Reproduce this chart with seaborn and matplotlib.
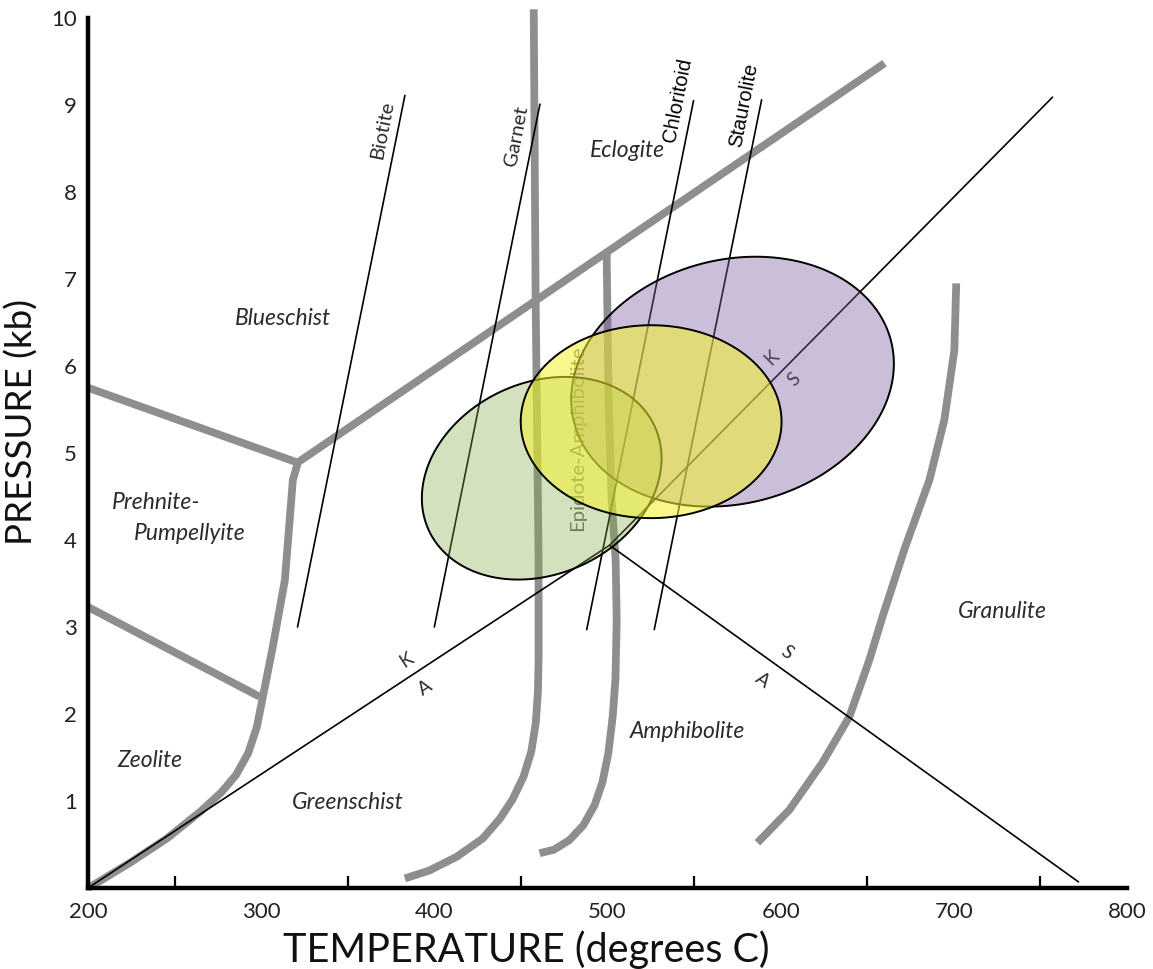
import numpy as np
import matplotlib
matplotlib.use("Agg")
import matplotlib.pyplot as plt
import seaborn as sns

sns.set_theme(style="white")
plt.rcParams['font.family'] = ['Lato', 'DejaVu Sans']

# ---------------- data ----------------
temp_major = [200, 300, 400, 500, 600, 700, 800]
temp_minor = [250, 350, 450, 550, 650, 750]
press_ticks = [1, 2, 3, 4, 5, 6, 7, 8, 9, 10]

# facies boundaries (T degC, P kb)
upper_T = [200, 321, 660]
upper_P = [5.75, 4.89, 9.48]
zeo_T = [321.2, 318.3, 313.7, 306.7, 301.0, 297.5, 292.5, 285.5, 277.0, 265.0, 245.6, 225.0, 205.2, 200]
zeo_P = [4.89, 4.69, 3.54, 2.77, 2.20, 1.85, 1.55, 1.30, 1.10, 0.88, 0.57, 0.30, 0.06, 0.0]
pp_T = [200, 299]
pp_P = [3.23, 2.2]
gs_T = [457.4, 458.5, 460.2, 460.2, 459.8, 458.6, 456.0, 451.5, 445.2, 438.0, 428.0, 413.0, 397.0, 383.0]
gs_P = [10.1, 6.76, 3.77, 2.62, 2.25, 1.90, 1.57, 1.28, 1.02, 0.80, 0.57, 0.36, 0.20, 0.11]
ea_T = [499.5, 500.6, 502.4, 504.7, 505.3, 504.6, 503.0, 500.5, 497.0, 492.5, 486.0, 478.0, 469.0, 460.8]
ea_P = [7.30, 5.61, 4.46, 3.77, 3.08, 2.40, 1.97, 1.55, 1.21, 0.95, 0.72, 0.55, 0.44, 0.40]
gr_T = [701.4, 700.3, 694.5, 685.9, 671.4, 658.7, 651.2, 639.7, 624.1, 605.1, 586.6]
gr_P = [6.95, 6.18, 5.38, 4.69, 3.89, 3.11, 2.62, 1.97, 1.44, 0.90, 0.52]

# Al2SiO5 triple point lines
ka_T, ka_P = [200, 501.2], [0.0, 3.94]
ks_T, ks_P = [501.2, 757], [3.94, 9.09]
as_T, as_P = [501.2, 772], [3.94, 0.07]

# isograds
iso_names = ["Biotite", "Garnet", "Chloritoid", "Staurolite"]
iso_T = [[321, 383], [400, 461], [488, 549.7], [527, 589]]
iso_P = [[3.0, 9.11], [3.0, 9.01], [2.97, 9.05], [2.97, 9.06]]
iso_label_T = [370.2, 447.5, 540.4, 578.5]
iso_label_P = [8.71, 8.64, 9.06, 9.0]

# P-T ellipses: centre T, centre P, semi-axes (in degC screen-equivalent), tilt (deg)
ell_names = ["purple", "green", "yellow"]
ell_cT = [572.2, 462.0, 525.2]
ell_cP = [5.82, 4.71, 5.36]
ell_a = [94.5, 71.8, 75.3]
ell_b = [70.4, 55.3, 55.7]
ell_tilt = [14.5, 24.7, 0.0]
ell_face = [(0.49, 0.37, 0.63, 0.40), (0.51, 0.67, 0.27, 0.35), (0.95, 0.95, 0.18, 0.55)]
ell_z = [3, 3.2, 4]

# facies labels
fac_names = ["Blueschist", "Prehnite-", "Pumpellyite", "Zeolite", "Greenschist",
             "Amphibolite", "Granulite", "Eclogite"]
fac_T = [312.5, 239.2, 258.9, 235.8, 350.0, 546.2, 728.0, 511.6]
fac_P = [6.55, 4.43, 4.08, 1.47, 0.98, 1.80, 3.18, 8.48]

# ---------------- figure ----------------
W, H = 1153, 969
fig = plt.figure(figsize=(W / 100, H / 100), dpi=100)
ax = fig.add_axes([88 / W, 81 / H, 1039 / W, 870 / H])
ax.set_xlim(200, 800)
ax.set_ylim(0, 10)

gray = "#8e8e8e"
glw = 5.6
curves = [(upper_T, upper_P, "miter"), (zeo_T, zeo_P, "round"), (pp_T, pp_P, "miter"),
          (gs_T, gs_P, "round"), (ea_T, ea_P, "round"), (gr_T, gr_P, "round")]
for T, P, js in curves:
    n0 = len(ax.lines)
    sns.lineplot(x=T, y=P, sort=False, estimator=None, ax=ax, color=gray, lw=glw,
                 zorder=1)
    for line in ax.lines[n0:]:
        line.set_solid_joinstyle(js)
        line.set_solid_capstyle("butt")
        line.set_clip_on(False)

for T, P in [(ka_T, ka_P), (ks_T, ks_P), (as_T, as_P)] + list(zip(iso_T, iso_P)):
    sns.lineplot(x=T, y=P, sort=False, estimator=None, ax=ax, color="black", lw=1.2,
                 zorder=2)

# ellipses (screen-aspect aware)
bb = ax.get_position()
px_per_deg = bb.width * W / 600.0
px_per_kb = bb.height * H / 10.0
ratio = px_per_kb / px_per_deg
t = np.linspace(0, 2 * np.pi, 400)
for cT, cP, a, b, th, fc, z in zip(ell_cT, ell_cP, ell_a, ell_b, ell_tilt, ell_face, ell_z):
    th = np.radians(th)
    dx = a * np.cos(t) * np.cos(th) - b * np.sin(t) * np.sin(th)
    dy = a * np.cos(t) * np.sin(th) + b * np.sin(t) * np.cos(th)
    ax.fill(cT + dx, cP + dy / ratio, facecolor=fc, edgecolor="black", lw=1.4, zorder=z)

# text labels
lab_col = "#2b2b2b"
for name, T, P in zip(fac_names, fac_T, fac_P):
    ax.text(T, P, name, style="italic", fontsize=16.5, color=lab_col,
            ha="center", va="center", zorder=2)

for name, T, P in zip(iso_names, iso_label_T, iso_label_P):
    if name in ("Chloritoid", "Staurolite"):
        ax.text(T, P, name, rotation=79, fontsize=14.5, color="black",
                family=["Liberation Sans"], ha="center", va="center", zorder=2)
    else:
        ax.text(T, P, name, rotation=79, fontsize=14.5, color=lab_col,
                ha="center", va="center", zorder=2)

ax.text(482.7, 5.17, "Epidote-Amphibolite", rotation=90, fontsize=14.7,
        color="#6a6a6a", ha="center", va="center", zorder=2)

# Al2SiO5 field letters
for s, T, P, rot in [("K", 384, 2.62, 33), ("A", 394.5, 2.30, 33),
                     ("K", 594.7, 6.10, 45), ("S", 608, 5.84, 45),
                     ("S", 603.3, 2.71, -35.6), ("A", 589.5, 2.39, -35.6)]:
    ax.text(T, P, s, rotation=rot, fontsize=13.5, color=lab_col,
            ha="center", va="center", zorder=2)

# axes styling
sns.despine(ax=ax, top=True, right=True)
for sp in ("left", "bottom"):
    ax.spines[sp].set_color("black")
    ax.spines[sp].set_linewidth(3.2)
ax.set_xticks(temp_major)
ax.set_xticklabels([str(v) for v in temp_major])
ax.set_xticks(temp_minor, minor=True)
ax.set_yticks(press_ticks)
ax.set_yticklabels([str(v) for v in press_ticks])
ax.tick_params(axis="x", which="major", direction="in", length=15, width=1.6,
               color="black", labelsize=16, labelcolor="#222222", pad=10)
ax.tick_params(axis="x", which="minor", direction="in", length=9, width=1.6,
               color="black", bottom=True)
ax.tick_params(axis="y", which="major", direction="in", length=12, width=2.2,
               color="black", labelsize=16, labelcolor="#222222", pad=8)
ax.xaxis.get_major_ticks()[5].tick1line.set_visible(False)
ax.grid(False)

ax.set_xlabel("TEMPERATURE (degrees C)", fontsize=28.5, color="#111111", va="center")
ax.set_ylabel("PRESSURE (kb)", fontsize=26.5, color="#111111", va="center")
ax.xaxis.set_label_coords(0.4216, -0.071)
ax.yaxis.set_label_coords(-0.0635, 0.536)

fig.savefig("out.png", dpi=100, facecolor="white")
